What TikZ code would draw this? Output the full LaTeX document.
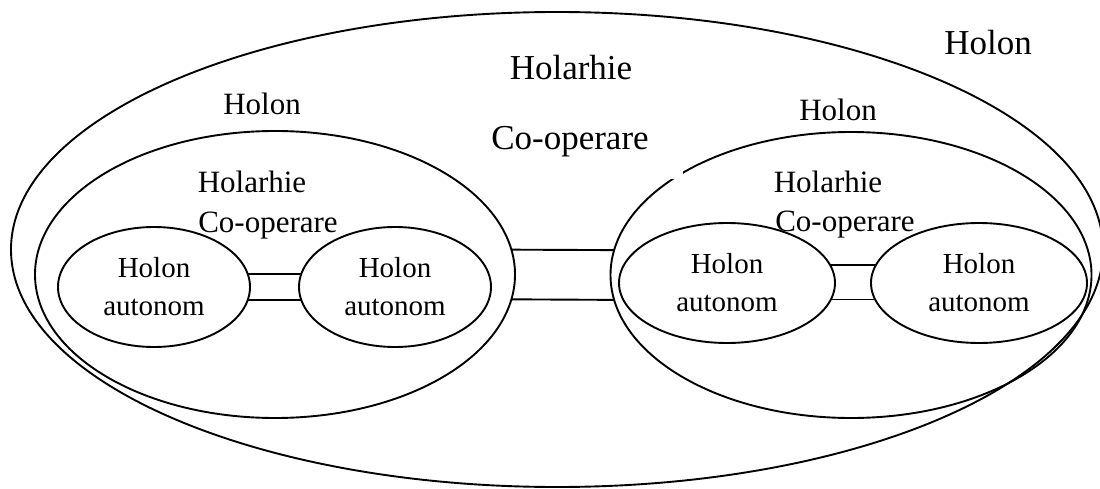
\documentclass[tikz,border=0pt]{standalone}
\usepackage{fontspec}
\setmainfont{Liberation Serif}
\usetikzlibrary{shapes.geometric}
\begin{document}
\begin{tikzpicture}[x=1pt,y=-1pt,
  ring/.style={draw, ellipse, line width=1.9pt, inner sep=0pt, outer sep=0pt},
  smallring/.style={ring, minimum height=120pt, align=center,
     font=\fontsize{29}{38}\selectfont},
  link/.style={line width=1.9pt},
  bigtxt/.style={anchor=base, inner sep=0pt, font=\fontsize{35}{42}\selectfont},
  midtxt/.style={anchor=base, inner sep=0pt, font=\fontsize{31}{38}\selectfont}]
\useasboundingbox (0,0) rectangle (1100,489);
% containers
\node[ring, minimum width=1092pt, minimum height=475pt] (outer) at (557,249.5) {};
\node[ring, minimum width=480pt, minimum height=287pt] (L) at (275,274.5) {};
\node[ring, minimum width=481pt, minimum height=286pt] (R) at (851,275) {};
% gap left by the white text box of the outer label
\fill[white] (480,112) rectangle (683,179);
% autonomous holons
\node[smallring, minimum width=192pt] (s1) at (154,287) {Holon\\autonom};
\node[smallring, minimum width=192pt] (s2) at (395,287) {Holon\\autonom};
\node[smallring, minimum width=216pt] (s3) at (727,283) {Holon\\autonom};
\node[smallring, minimum width=216pt] (s4) at (979,283) {Holon\\autonom};
% double connectors
\draw[link] (s1.8) -- (s2.172);
\draw[link] (s1.-8) -- (s2.-172);
\draw[link] (L.6) -- (R.174);
\draw[link] (L.-6) -- (R.-174);
\draw[link] (s3.10) -- (s4.170);
\draw[link] (s3.-9) -- (s4.-171);
% labels
\node[bigtxt] (tHolon) at (988,55) {Holon};
\node[bigtxt] (tHolarhie) at (571,80) {Holarhie};
\node[bigtxt] (tCoop) at (570,150) {Co-operare};
\begin{scope}
  \clip (200,80) rectangle (299.5,130);
  \node[midtxt] (lHolon) at (262,115) {Holon};
\end{scope}
\begin{scope}
  \clip (780,85) rectangle (875.5,135);
  \node[midtxt] (rHolon) at (838,121) {Holon};
\end{scope}
\node[midtxt] (lHol) at (252,193) {Holarhie};
\node[midtxt] (lCoop) at (268,233) {Co-operare};
\node[midtxt] (rHol) at (828,193) {Holarhie};
\node[midtxt] (rCoop) at (845,232) {Co-operare};
\end{tikzpicture}
\end{document}
